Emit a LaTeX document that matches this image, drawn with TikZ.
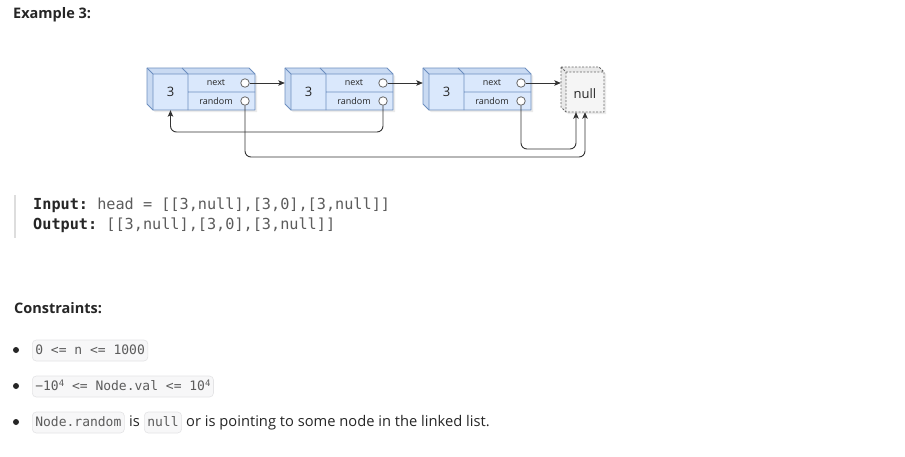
\documentclass[tikz,border=0pt]{standalone}
\usepackage{fontspec}
\setmainfont{Open Sans}
\setmonofont{DejaVu Sans Mono}
\usetikzlibrary{arrows.meta}

\definecolor{cubefill}{HTML}{DAE8FC}
\definecolor{cubeside}{HTML}{C9DAF2}
\definecolor{cubeline}{HTML}{6C8EBF}
\definecolor{nullfill}{HTML}{F5F5F5}
\definecolor{nullside}{HTML}{E9E9E9}
\definecolor{nullline}{HTML}{666666}
\definecolor{edgecol}{HTML}{333333}
\definecolor{txtdark}{HTML}{262626}
\definecolor{txtgray}{HTML}{5C5C5C}
\definecolor{chipfill}{HTML}{F7F7F8}
\definecolor{chipline}{HTML}{E4E4E6}
\definecolor{quotebar}{HTML}{DDDDDD}

\tikzset{
  cubebound/.style={draw=none, inner sep=0pt, minimum width=108pt, minimum height=42pt},
  nullbound/.style={draw=none, inner sep=0pt, minimum width=43pt, minimum height=45pt},
  valtext/.style={inner sep=0pt, font=\fontsize{13}{15}\selectfont, text=txtdark},
  fieldtext/.style={inner sep=0pt, font=\fontsize{9}{10}\selectfont, text=txtdark},
  port/.style={circle, draw=nullline, fill=white, line width=0.8pt, inner sep=0pt, minimum size=8.5pt},
  link/.style={draw=edgecol, line width=0.9pt, -{Stealth[length=6.5pt, width=5.5pt, inset=1.5pt]}},
  shade/.style={fill=black, opacity=0.08},
  heading/.style={inner sep=0pt, anchor=base west, text=txtdark, font=\bfseries\fontsize{14.5}{17}\selectfont},
  codeline/.style={inner sep=0pt, anchor=base west, text=txtgray, font=\ttfamily\fontsize{15.2}{18}\selectfont},
  chip/.style={anchor=base west, fill=chipfill, draw=chipline, line width=0.6pt, rounded corners=4pt,
    inner xsep=3pt, inner ysep=4pt, text height=10pt, text depth=3pt, text=txtgray,
    font=\ttfamily\fontsize{13}{15}\selectfont},
  body/.style={inner sep=0pt, anchor=base west, text=txtdark, font=\fontsize{14.7}{17}\selectfont},
  bullet/.style={fill=txtdark},
}

% raised small exponent inside inline code
\newcommand\codepow[1]{\raisebox{4pt}{\fontsize{9}{9}\selectfont #1}}

% one list cell drawn as a cube: #1 index, #2 x of its back left edge
\newcommand\listcube[2]{%
\begin{scope}[shift={(#2,68)}]
  \fill[shade] (2,2) -- (104,2) -- (110,8) -- (110,44) -- (8,44) -- (2,38) -- cycle;
  \fill[cubeside] (0,0) -- (102,0) -- (108,6) -- (6,6) -- cycle;
  \fill[cubeside] (0,0) -- (6,6) -- (6,42) -- (0,36) -- cycle;
  \fill[cubefill] (6,6) rectangle (108,42);
  \draw[cubeline, line width=0.8pt, line join=round]
    (0,0) -- (102,0) -- (108,6) -- (108,42) -- (6,42) -- (0,36) -- cycle;
  \draw[cubeline, line width=0.8pt] (0,0) -- (6,6) -- (108,6) (6,6) -- (6,42);
  \draw[cubeline, line width=0.8pt] (35,0) -- (41,6) -- (41,42) (41,24) -- (108,24);
  \node[cubebound] (c#1) at (54,21) {};
  \node[valtext] (v#1) at (23.5,24) {3};
  \node[fieldtext] (nt#1) at (69,15) {next};
  \node[fieldtext] (rt#1) at (69,33) {random};
  \node[port] (pn#1) at (98,15) {};
  \node[port] (pr#1) at (98,33) {};
\end{scope}}

\begin{document}
\begin{tikzpicture}[x=1pt, y=-1pt]
  \fill[white] (0,0) rectangle (905,456);
  \useasboundingbox (0,0) rectangle (905,456);

  \node[heading] (title) at (13,18) {Example 3:};

  % the three list cells
  \listcube{1}{147}
  \listcube{2}{285}
  \listcube{3}{423}

  % the null target
  \begin{scope}[shift={(561,67)}]
    \fill[shade] (2,2) -- (40,2) -- (45,7) -- (45,47) -- (7,47) -- (2,42) -- cycle;
    \fill[nullside] (0,0) -- (38,0) -- (43,5) -- (5,5) -- cycle;
    \fill[nullside] (0,0) -- (5,5) -- (5,45) -- (0,40) -- cycle;
    \fill[nullfill] (5,5) rectangle (43,45);
    \draw[nullline, line width=0.8pt, dashed, dash pattern=on 2pt off 1.5pt]
      (0,0) -- (38,0) -- (43,5) -- (43,45) -- (5,45) -- (0,40) -- cycle
      (0,0) -- (5,5) -- (43,5) (5,5) -- (5,45);
    \node[nullbound] (cnull) at (21.5,22.5) {};
    \node[valtext] (nulltxt) at (24,26.5) {null};
  \end{scope}

  % next pointers
  \draw[link] (pn1) -- (pn1 -| c2.west);
  \draw[link] (pn2) -- (pn2 -| c3.west);
  \draw[link] (pn3) -- (pn3 -| cnull.west);

  % random pointers
  \draw[link, rounded corners=6pt] (pr1) -- ++(0,56) -| ([xshift=2.5pt]cnull.south);
  \draw[link, rounded corners=6pt] (pr2) -- ++(0,31) -| (v1 |- c1.south);
  \draw[link, rounded corners=6pt] (pr3) -- ++(0,48) -| ([xshift=-6.5pt]cnull.south);

  % input / output block
  \draw[quotebar, line width=2pt] (15,195) -- (15,238);
  \node[codeline] (inp) at (33,209) {\textbf{\color{txtdark}Input:} head = [[3,null],[3,0],[3,null]]};
  \node[codeline] (outp) at (33,229) {\textbf{\color{txtdark}Output:} [[3,null],[3,0],[3,null]]};

  % constraints
  \node[heading] (cons) at (14,313) {Constraints:};

  \fill[bullet] (16,350) circle (3);
  \node[chip] (k1) at (32,354) {0 <= n <= 1000};

  \fill[bullet] (16,386) circle (3);
  \node[chip] (k2) at (32,390) {−10\codepow{4} <= Node.val <= 10\codepow{4}};

  \fill[bullet] (16,422) circle (3);
  \node[chip] (k3) at (32,426) {Node.random};
  \node[body] (t3a) at (129,426) {is};
  \node[chip] (k4) at (144,426) {null};
  \node[body] (t3b) at (186,426) {or is pointing to some node in the linked list.};
\end{tikzpicture}
\end{document}
